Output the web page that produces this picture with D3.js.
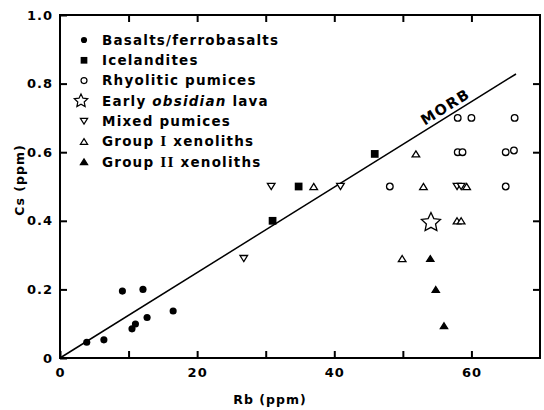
<!DOCTYPE html>
<html>
<head>
<meta charset="utf-8">
<script src="https://cdn.jsdelivr.net/npm/d3@7"></script>
<style>
  html, body { margin: 0; padding: 0; background: #fff; }
  svg text { font-family: "DejaVu Sans", sans-serif; fill: #000; font-weight: bold; }
</style>
</head>
<body>
<svg id="chart" width="544" height="410"></svg>
<script>
// Rb (ppm), Cs (ppm) for each rock group
const basalts = [[3.9, 0.046], [6.4, 0.053], [9.1, 0.195], [12.1, 0.2], [10.5, 0.085], [11.0, 0.099], [12.7, 0.118], [16.5, 0.137]];
const icelandites = [[31.0, 0.4], [34.8, 0.5], [45.9, 0.595]];
const rhyoliticPumices = [[48.1, 0.5], [58.0, 0.7], [60.0, 0.7], [66.3, 0.7], [58.0, 0.6], [58.7, 0.6], [65.0, 0.6], [66.2, 0.605], [65.0, 0.5]];
const obsidianLava = [[54.1, 0.395]];
const mixedPumices = [[26.8, 0.29], [30.8, 0.5], [40.9, 0.5], [57.9, 0.5], [58.5, 0.5]];
const groupOne = [[37.0, 0.5], [51.9, 0.595], [53.0, 0.5], [59.3, 0.5], [57.9, 0.4], [58.5, 0.4], [49.9, 0.29]];
const groupTwo = [[54.0, 0.29], [54.8, 0.2], [56.0, 0.094]];

// MORB reference line end points
const morbLine = [[0, 0], [66.5, 0.828]];

const xTicks = [0, 10, 20, 30, 40, 50, 60];
const xTickLabels = ["0", "", "20", "", "40", "", "60"];
const yTicks = [0, 0.2, 0.4, 0.6, 0.8, 1.0];
const yTickLabels = ["0", "0.2", "0.4", "0.6", "0.8", "1.0"];

const legendLabels = ["Basalts/ferrobasalts", "Icelandites", "Rhyolitic pumices", "Early obsidian lava", "Mixed pumices", "Group I xenoliths", "Group II xenoliths"];

const svg = d3.select("#chart");
const plotLeft = 60, plotRight = 540, plotTop = 15, plotBottom = 358;

const x = d3.scaleLinear().domain([0, 70]).range([plotLeft, plotRight]);
const y = d3.scaleLinear().domain([0, 1]).range([plotBottom, plotTop]);

// Custom symbol types
const triUp = {
  draw(ctx, size) {
    const w = Math.sqrt(size) * 1.55, h = w * 0.8;
    ctx.moveTo(0, -h / 2); ctx.lineTo(w / 2, h / 2); ctx.lineTo(-w / 2, h / 2); ctx.closePath();
  }
};
const triDown = {
  draw(ctx, size) {
    const w = Math.sqrt(size) * 1.55, h = w * 0.8;
    ctx.moveTo(0, h / 2); ctx.lineTo(w / 2, -h / 2); ctx.lineTo(-w / 2, -h / 2); ctx.closePath();
  }
};
const fatStar = {
  draw(ctx, size) {
    const R = Math.sqrt(size), r = R * 0.48;
    for (let i = 0; i < 10; i++) {
      const a = -Math.PI / 2 + i * Math.PI / 5;
      const rr = i % 2 === 0 ? R : r;
      const px = rr * Math.cos(a), py = rr * Math.sin(a);
      if (i === 0) ctx.moveTo(px, py); else ctx.lineTo(px, py);
    }
    ctx.closePath();
  }
};

const styles = [
  { data: basalts, type: d3.symbolCircle, size: 40, fill: "#000", stroke: "none", legendSize: 30 },
  { data: icelandites, type: d3.symbolSquare, size: 60, fill: "#000", stroke: "none", legendSize: 45 },
  { data: rhyoliticPumices, type: d3.symbolCircle, size: 34, fill: "#fff", stroke: "#000", legendSize: 28 },
  { data: obsidianLava, type: fatStar, size: 100, fill: "#fff", stroke: "#000", legendSize: 49 },
  { data: mixedPumices, type: triDown, size: 24, fill: "#fff", stroke: "#000", legendSize: 22 },
  { data: groupOne, type: triUp, size: 24, fill: "#fff", stroke: "#000", legendSize: 22 },
  { data: groupTwo, type: triUp, size: 22, fill: "#000", stroke: "#000", legendSize: 22 }
];

// Frame
svg.append("rect")
  .attr("x", plotLeft).attr("y", plotTop)
  .attr("width", plotRight - plotLeft).attr("height", plotBottom - plotTop)
  .attr("fill", "none").attr("stroke", "#000").attr("stroke-width", 2);

// Axes with inward ticks
const xAxis = d3.axisBottom(x).tickValues(xTicks).tickSize(-7).tickPadding(10)
  .tickFormat((d, i) => xTickLabels[i]);
const gx = svg.append("g").attr("transform", `translate(0,${plotBottom})`).call(xAxis);
const xTop = svg.append("g").attr("transform", `translate(0,${plotTop})`)
  .call(d3.axisTop(x).tickValues(xTicks.slice(1)).tickSize(-7).tickFormat(""));

const yAxis = d3.axisLeft(y).tickValues(yTicks).tickSize(-7).tickPadding(8)
  .tickFormat((d, i) => yTickLabels[i]);
const gy = svg.append("g").attr("transform", `translate(${plotLeft},0)`).call(yAxis);
const yRight = svg.append("g").attr("transform", `translate(${plotRight},0)`)
  .call(d3.axisRight(y).tickValues(yTicks.slice(1, 5)).tickSize(-7).tickFormat(""));

[gx, xTop, gy, yRight].forEach(g => {
  g.select(".domain").remove();
  g.selectAll(".tick line").attr("stroke", "#000").attr("stroke-width", 2);
});
[gx, gy].forEach(g => g.selectAll(".tick text")
  .style("font-family", "DejaVu Sans, sans-serif").style("font-weight", "bold")
  .style("font-size", "13px").style("letter-spacing", "1px").attr("fill", "#000"));
gy.selectAll(".tick text").attr("x", -7);

// Axis titles
svg.append("text")
  .attr("x", 270).attr("y", 404)
  .attr("text-anchor", "middle")
  .style("font-size", "12.5px").style("letter-spacing", "1px")
  .text("Rb (ppm)");
svg.append("text")
  .attr("transform", "translate(24,180) rotate(-90)")
  .attr("text-anchor", "middle")
  .style("font-size", "12.5px").style("letter-spacing", "1px")
  .text("Cs (ppm)");

// MORB line
svg.append("path")
  .datum(morbLine)
  .attr("d", d3.line().x(d => x(d[0])).y(d => y(d[1])))
  .attr("fill", "none").attr("stroke", "#000").attr("stroke-width", 1.5);

const angle = Math.atan2(y(morbLine[1][1]) - y(0), x(morbLine[1][0]) - x(0)) * 180 / Math.PI;
svg.append("text")
  .attr("transform", `translate(${x(56.6)},${y(0.705) - 5}) rotate(${angle})`)
  .attr("text-anchor", "middle")
  .style("font-size", "14.5px").style("letter-spacing", "1.5px")
  .text("MORB");

// Data markers
styles.forEach(s => {
  svg.append("g").selectAll("path")
    .data(s.data)
    .join("path")
    .attr("transform", d => `translate(${x(d[0])},${y(d[1])})`)
    .attr("d", d3.symbol().type(s.type).size(s.size))
    .attr("fill", s.fill)
    .attr("stroke", s.stroke)
    .attr("stroke-width", 1.3);
});

// Legend
const legendX = 84, legendY = 40, legendStep = 20.3;
const legend = svg.append("g");
styles.forEach((s, i) => {
  const ly = legendY + i * legendStep;
  legend.append("path")
    .attr("transform", `translate(${i === 3 ? legendX - 3 : legendX},${ly})`)
    .attr("d", d3.symbol().type(s.type).size(s.legendSize))
    .attr("fill", s.fill).attr("stroke", s.stroke).attr("stroke-width", 1.2);
  const t = legend.append("text")
    .attr("x", 102).attr("y", ly).attr("dy", "0.36em")
    .style("font-size", "13.5px").style("letter-spacing", "1.2px");
  const label = legendLabels[i];
  if (i === 3) {
    t.append("tspan").text("Early ");
    t.append("tspan").style("font-style", "italic").text("obsidian");
    t.append("tspan").text(" lava");
  } else if (i === 5 || i === 6) {
    t.append("tspan").text("Group ");
    t.append("tspan").style("font-family", "Liberation Serif, serif").style("font-size", "15.5px")
      .text(i === 5 ? "I" : "II");
    t.append("tspan").text(" xenoliths");
  } else {
    t.text(label);
  }
});
</script>
</body>
</html>
